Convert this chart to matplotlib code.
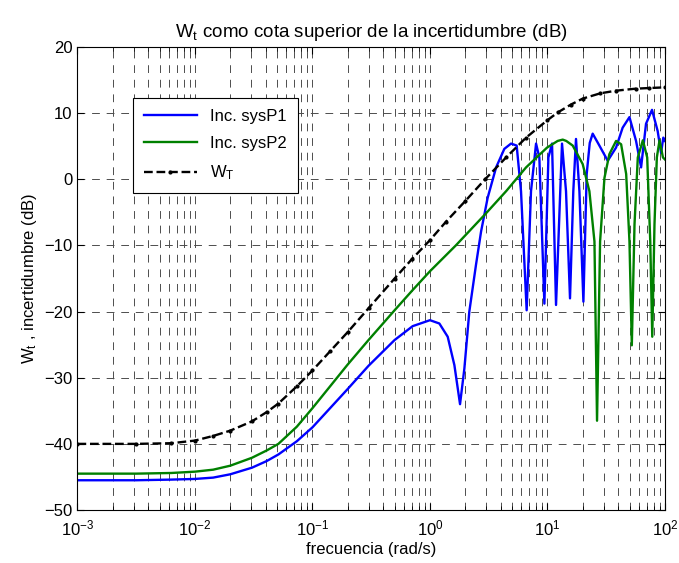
import numpy as np
import matplotlib
matplotlib.use('Agg')
import matplotlib.pyplot as plt
from matplotlib.ticker import LogLocator, MultipleLocator, NullFormatter

# valores (log10 de la frecuencia, dB)
p1_logw = [-3.0, -2.5, -2.2, -2.0, -1.845, -1.7, -1.515, -1.39, -1.29, -1.133,
           -1.0, -0.85, -0.7, -0.523, -0.301, -0.147, 0.0, 0.08, 0.151, 0.208,
           0.256, 0.293, 0.335, 0.392, 0.435, 0.491, 0.563, 0.633, 0.69, 0.738,
           0.775, 0.823, 0.86, 0.903, 0.931, 0.974, 1.008, 1.039, 1.073, 1.124,
           1.158, 1.192, 1.22, 1.243, 1.272, 1.306, 1.334, 1.36, 1.385, 1.442,
           1.513, 1.584, 1.64, 1.698, 1.754, 1.797, 1.839, 1.89, 1.938, 1.967,
           1.986, 2.0]
p1_db = [-45.5, -45.5, -45.4, -45.3, -45.1, -44.6, -43.6, -42.6, -41.6, -39.6,
         -37.5, -34.6, -31.7, -28.2, -24.3, -22.2, -21.3, -21.8, -23.8, -28.1,
         -34.0, -28.6, -20.0, -12.9, -7.9, -2.8, 1.8, 4.6, 5.4, 5.1,
         -1.8, -19.8, -1.8, 5.4, 3.3, -18.8, 3.3, 5.4, -19.0, 5.4,
         -1.8, -18.0, -1.8, 6.1, -1.8, -18.5, 0.8, 5.5, 6.9, 5.1,
         2.8, 4.8, 7.8, 9.4, 5.8, 1.8, 8.4, 10.5, 7.3, 4.0,
         6.3, 5.8]

p2_logw = [-3.0, -2.5, -2.2, -2.0, -1.845, -1.7, -1.515, -1.39, -1.29, -1.133,
           -1.0, -0.85, -0.7, -0.523, -0.301, -0.15, 0.0, 0.22, 0.469, 0.648,
           0.818, 0.997, 1.087, 1.13, 1.16, 1.215, 1.3, 1.357, 1.4, 1.422,
           1.448, 1.485, 1.527, 1.584, 1.627, 1.67, 1.698, 1.718, 1.741, 1.769,
           1.812, 1.849, 1.875, 1.892, 1.911, 1.931, 1.954, 1.983, 2.0]
p2_db = [-44.5, -44.5, -44.4, -44.2, -43.9, -43.3, -42.1, -41.0, -40.0, -37.4,
         -34.6, -31.3, -28.0, -24.3, -19.8, -16.8, -13.9, -10.0, -5.3, -1.8,
         1.8, 4.8, 5.8, 6.0, 5.8, 5.1, 2.3, -1.8, -9.4, -36.5,
         -9.4, 0.2, 3.8, 5.8, 5.3, 0.8, -9.4, -25.1, -6.8, 3.3,
         5.9, 3.3, -9.4, -23.8, -6.8, 3.3, 5.9, 3.3, 3.0]

wt_logw = [-3.0, -2.5, -2.2, -2.0, -1.845, -1.7, -1.515, -1.39, -1.29, -1.133,
           -1.0, -0.85, -0.7, -0.523, -0.301, -0.15, 0.0, 0.137, 0.3, 0.469,
           0.648, 0.818, 0.997, 1.087, 1.2, 1.3, 1.45, 1.585, 1.75, 1.868, 2.0]
wt_db = [-40.0, -40.0, -39.9, -39.5, -38.8, -38.0, -36.6, -35.2, -33.9, -31.3,
         -28.9, -26.0, -23.1, -19.5, -15.0, -12.0, -9.2, -6.4, -3.3, 0.0,
         3.3, 6.3, 8.9, 10.1, 11.3, 12.2, 13.0, 13.4, 13.7, 13.8, 13.9]

plt.rcParams['font.family'] = ['Liberation Sans', 'DejaVu Sans']
plt.rcParams['mathtext.default'] = 'regular'
plt.rcParams['font.size'] = 12

fig = plt.figure(figsize=(6.79, 5.63), dpi=100)
ax = fig.add_axes([0.1141, 0.0941, 0.8652, 0.8224])

ax.plot(10**np.array(p1_logw), p1_db, color='#0000ff', lw=1.7, label='Inc. sysP1')
ax.plot(10**np.array(p2_logw), p2_db, color='#008000', lw=1.7, label='Inc. sysP2')
ax.plot(10**np.array(wt_logw), wt_db, color='k', lw=1.7, ls='--', marker='.',
        markersize=4, label='$W_T$')

ax.set_xscale('log')
ax.set_xlim(1e-3, 1e2)
ax.set_ylim(-50, 20)
ax.yaxis.set_major_locator(MultipleLocator(10))
ax.xaxis.set_major_locator(LogLocator(base=10, numticks=10))
ax.xaxis.set_minor_locator(LogLocator(base=10, subs=np.arange(2, 10), numticks=10))
ax.xaxis.set_minor_formatter(NullFormatter())

ax.tick_params(which='both', direction='in', top=True, right=True)
ax.tick_params(which='major', length=5)
ax.tick_params(which='minor', length=3)
ax.tick_params(axis='x', which='major', pad=6)

ax.grid(which='major', ls=(0, (8, 7)), color='0.3', lw=0.7)
ax.grid(which='minor', axis='x', ls=(0, (8, 7)), color='0.3', lw=0.7)

ax.set_title('$W_t$ como cota superior de la incertidumbre (dB)', fontsize=13.5, pad=7)
ax.set_xlabel('frecuencia (rad/s)', labelpad=3)
ax.set_ylabel('$W_t$ , incertidumbre (dB)')

leg = ax.legend(loc='upper left', bbox_to_anchor=(0.094, 0.89), fancybox=False,
                edgecolor='k', framealpha=1, handlelength=3.2, numpoints=1,
                labelspacing=0.75, borderpad=0.65, borderaxespad=0)
leg.get_frame().set_linewidth(0.8)

fig.savefig('out.png', dpi=100)
